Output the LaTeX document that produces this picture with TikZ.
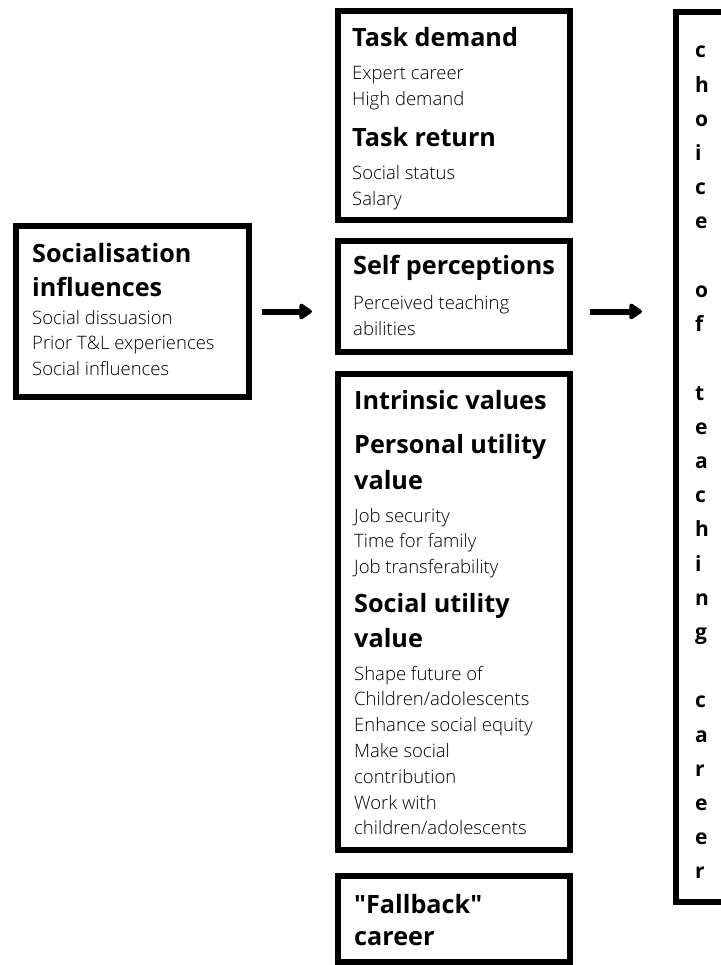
\documentclass[tikz,border=0pt]{standalone}
\usepackage{fontspec}
\setmainfont{Open Sans}
\IfFontExistsTF{Open Sans Light}{\newfontfamily\lightf{Open Sans Light}}{\newfontfamily\lightf{Open Sans}}
\usetikzlibrary{arrows.meta}
\begin{document}
\begin{tikzpicture}[x=1pt,y=-1pt,
  box/.style={draw=black, line width=6pt, inner sep=0pt, rectangle},
  hd/.style={anchor=base west, inner sep=0pt, font=\bfseries\fontsize{25.2}{29}\selectfont},
  bd/.style={anchor=base west, inner sep=0pt, text=black, font=\lightf\fontsize{18.5}{22}\selectfont},
  vl/.style={anchor=base west, inner sep=0pt, font=\bfseries\fontsize{21}{24}\selectfont},
  arr/.style={line width=6pt, -{Triangle[length=14pt,width=18pt,round]}}]
\useasboundingbox (0,0) rectangle (720,965);
% boxes
\node[box, minimum width=233pt, minimum height=171pt] (soc) at (132.5,311.5) {};
\node[box, minimum width=232pt, minimum height=209pt] (td) at (454,115.5) {};
\node[box, minimum width=232pt, minimum height=111pt] (sp) at (454,296.5) {};
\node[box, minimum width=232pt, minimum height=476pt] (iv) at (454,612) {};
\node[box, minimum width=232pt, minimum height=86pt] (fb) at (454,919) {};
\node[box, minimum width=90pt, minimum height=890pt] (rt) at (721,457) {};
% arrows
\draw[arr, shorten <=10pt, shorten >=23pt] (soc.east) -- (soc.east -| sp.west);
\draw[arr, shorten <=17pt, shorten >=31pt] (soc.east -| sp.east) -- (soc.east -| rt.west);
% socialisation
\node[hd] (soc-h1) at (32,262) {Socialisation};
\node[hd] (soc-h2) at (32,296) {influences};
\node[bd] (soc-b1) at (32,324) {Social dissuasion};
\node[bd] (soc-b2) at (32,349.5) {Prior T\&L experiences};
\node[bd] (soc-b3) at (32,375) {Social influences};
% task
\node[hd] (td-h1) at (352,47) {Task demand};
\node[bd] (td-b1) at (352,80) {Expert career};
\node[bd] (td-b2) at (352,106) {High demand};
\node[hd] (td-h2) at (352,147) {Task return};
\node[bd] (td-b3) at (352,180) {Social status};
\node[bd] (td-b4) at (352,205.5) {Salary};
% self perceptions
\node[hd] (sp-h1) at (353,275) {Self perceptions};
\node[bd] (sp-b1) at (353,309) {Perceived teaching};
\node[bd] (sp-b2) at (353,335) {abilities};
% intrinsic etc
\node[hd] (iv-h1) at (354,409) {Intrinsic values};
\node[hd] (iv-h2) at (354,453) {Personal utility};
\node[hd] (iv-h3) at (354,489) {value};
\foreach \t [count=\i] in {Job security,Time for family,Job transferability}
  \node[bd] (iv-p\i) at (354,{522+25.5*(\i-1)}) {\t};
\node[hd] (iv-h4) at (354,612) {Social utility};
\node[hd] (iv-h5) at (354,647) {value};
\foreach \t [count=\i] in {Shape future of,Children/adolescents,Enhance social equity,Make social,contribution,Work with,children/adolescents}
  \node[bd] (iv-s\i) at (354,{680+25.8*(\i-1)}) {\t};
% fallback
\node[hd] (fb-h1) at (354,913) {\textquotedbl Fallback\textquotedbl};
\node[hd] (fb-h2) at (354,945) {career};
% vertical letters
\foreach \k/\l in {0/c,1/h,2/o,3/i,4/c,5/e,7/o,8/f,10/t,11/e,12/a,13/c,14/h,15/i,16/n,17/g,19/c,20/a,21/r,22/e,23/e,24/r}
  \node[vl] (rt-\k) at (695,{58+34.2*\k}) {\l};
\end{tikzpicture}
\end{document}
